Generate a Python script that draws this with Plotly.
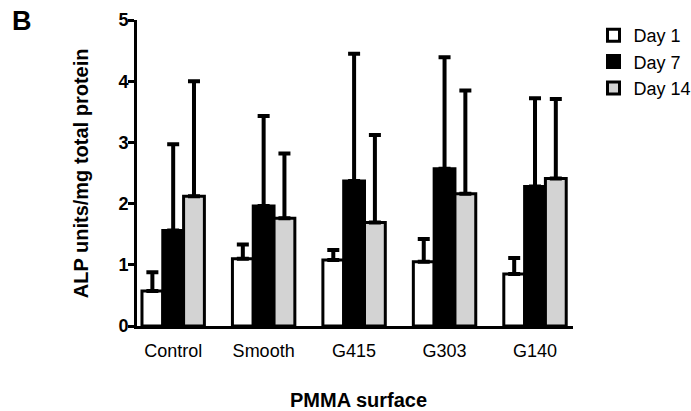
import plotly.graph_objects as go

categories = ["Control", "Smooth", "G415", "G303", "G140"]
series_names = ["Day 1", "Day 7", "Day 14"]
day1 = [0.57, 1.10, 1.08, 1.05, 0.85]
day1_top = [0.88, 1.33, 1.24, 1.42, 1.11]
day7 = [1.56, 1.96, 2.37, 2.57, 2.28]
day7_top = [2.97, 3.43, 4.45, 4.39, 3.72]
day14 = [2.12, 1.76, 1.69, 2.16, 2.41]
day14_top = [4.00, 2.82, 3.12, 3.85, 3.71]
fills = ["#ffffff", "#000000", "#d3d3d3"]
y_ticks = [0, 1, 2, 3, 4, 5]

FONT = "Liberation Sans, Arial, sans-serif"

fig = go.Figure()
for name, vals, tops, col in zip(series_names, [day1, day7, day14],
                                 [day1_top, day7_top, day14_top], fills):
    fig.add_trace(go.Bar(
        name=name, x=categories, y=vals,
        marker=dict(color=col, line=dict(color="black", width=3)),
        error_y=dict(type="data", symmetric=False,
                     array=[t - v for t, v in zip(tops, vals)],
                     arrayminus=[0] * len(vals),
                     color="black", thickness=4, width=6),
    ))

fig.update_layout(
    width=691, height=411,
    margin=dict(l=137, r=118, t=20, b=85, autoexpand=False),
    paper_bgcolor="white", plot_bgcolor="white",
    barmode="group", bargap=0.31, bargroupgap=0,
    font=dict(family=FONT, color="black"),
    showlegend=True,
    legend=dict(x=1.047, y=1.01, xanchor="left", yanchor="top",
                font=dict(size=18, family=FONT), tracegroupgap=0,
                bgcolor="rgba(0,0,0,0)"),
    xaxis=dict(range=[-0.4, 4.42], showline=True, linecolor="black",
               linewidth=3, ticks="", tickfont=dict(size=18, family=FONT),
               showgrid=False, zeroline=False, fixedrange=True,
               automargin=False, ticklabelstandoff=6),
    yaxis=dict(range=[0, 5], tickvals=y_ticks, showline=True,
               linecolor="black", linewidth=3, ticks="outside",
               ticklen=6, tickwidth=3, tickcolor="black",
               tickfont=dict(size=18, family=FONT, weight="bold"),
               showgrid=False, zeroline=False, automargin=False,
               ticklabelstandoff=-4, fixedrange=True),
    annotations=[
        dict(text="<b>B</b>", x=-0.264, y=0.997, xref="paper", yref="paper",
             xanchor="center", yanchor="middle",
             showarrow=False, font=dict(size=27)),
        dict(text="<b>ALP units/mg total protein</b>", textangle=-90,
             xref="paper", yref="paper", x=-0.128, y=0.5,
             xanchor="center", yanchor="middle", showarrow=False,
             font=dict(size=20)),
        dict(text="<b>PMMA surface</b>", xref="paper", yref="paper",
             x=0.509, y=-0.243, xanchor="center", yanchor="middle",
             showarrow=False, font=dict(size=20)),
    ],
)

fig.write_html("out.html", config={"displayModeBar": False},
               post_script="document.body.style.margin='0';document.body.style.overflow='hidden';")
